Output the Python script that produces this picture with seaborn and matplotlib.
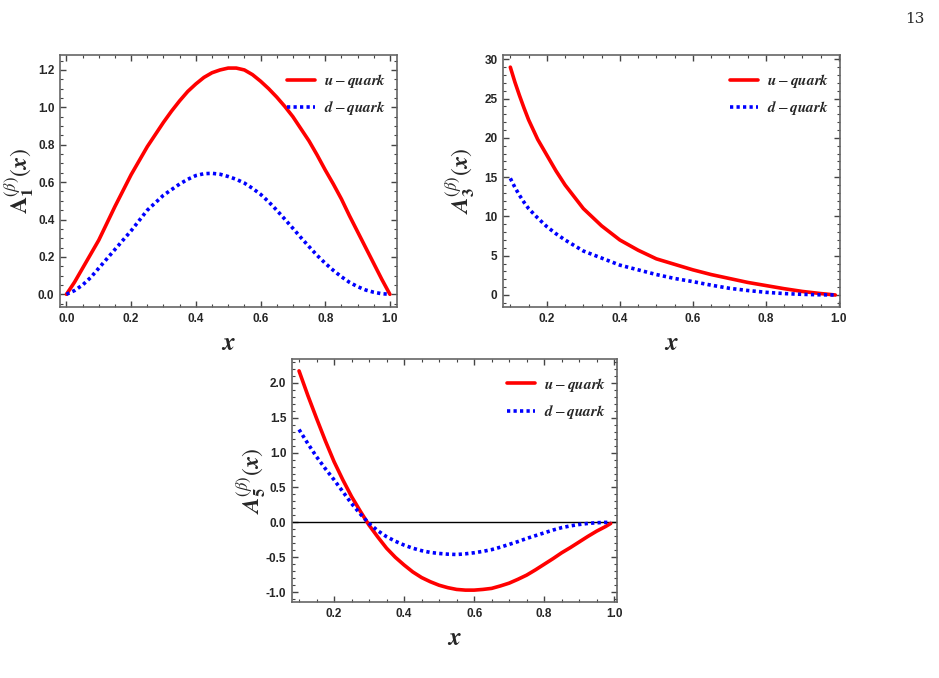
import matplotlib
matplotlib.use("Agg")
import matplotlib.pyplot as plt
import seaborn as sns
from matplotlib.ticker import MultipleLocator, FormatStrFormatter

# values
x1 = [0.0, 0.025, 0.05, 0.075, 0.1, 0.125, 0.15, 0.175, 0.2, 0.225, 0.25,
      0.275, 0.3, 0.325, 0.35, 0.375, 0.4, 0.425, 0.45, 0.475, 0.5,
      0.525, 0.55, 0.575, 0.6, 0.625, 0.65, 0.675, 0.7, 0.725, 0.75,
      0.775, 0.8, 0.825, 0.85, 0.875, 0.9, 0.925, 0.95, 0.975, 1.0]
u1 = [0.0, 0.065, 0.14, 0.215, 0.29, 0.38, 0.47, 0.555, 0.64, 0.715, 0.79,
      0.855, 0.92, 0.98, 1.035, 1.085, 1.125, 1.16, 1.185, 1.2, 1.21,
      1.21, 1.2, 1.175, 1.14, 1.10, 1.055, 1.005, 0.95, 0.885, 0.82,
      0.745, 0.665, 0.59, 0.51, 0.42, 0.335, 0.25, 0.165, 0.08, 0.0]
d1 = [0.0, 0.02, 0.05, 0.09, 0.14, 0.19, 0.24, 0.29, 0.34, 0.395, 0.45,
      0.49, 0.53, 0.56, 0.59, 0.615, 0.635, 0.645, 0.647, 0.642, 0.63,
      0.615, 0.595, 0.567, 0.535, 0.495, 0.45, 0.402, 0.353, 0.303, 0.255,
      0.208, 0.166, 0.128, 0.094, 0.064, 0.041, 0.023, 0.011, 0.003, 0.0]

x3 = [0.1, 0.1125, 0.125, 0.1375, 0.15, 0.175, 0.2, 0.225, 0.25, 0.3, 0.35,
      0.4, 0.45, 0.5, 0.55, 0.6, 0.65, 0.7, 0.75, 0.8, 0.85, 0.9, 0.95, 0.99]
u3 = [29.0, 27.1, 25.4, 23.8, 22.3, 19.8, 17.8, 15.8, 14.0, 11.0, 8.8,
      7.0, 5.7, 4.6, 3.9, 3.2, 2.6, 2.1, 1.6, 1.2, 0.8, 0.45, 0.18, 0.0]
d3 = [14.85, 13.7, 12.7, 11.8, 11.0, 9.8, 8.7, 7.8, 7.0, 5.6, 4.7,
      3.8, 3.2, 2.6, 2.1, 1.7, 1.25, 0.85, 0.57, 0.34, 0.18, 0.08, 0.02, 0.0]

x5 = [0.1, 0.125, 0.15, 0.175, 0.2, 0.225, 0.25, 0.275, 0.3, 0.325, 0.35,
      0.375, 0.4, 0.425, 0.45, 0.475, 0.5, 0.525, 0.55, 0.575, 0.6,
      0.625, 0.65, 0.675, 0.7, 0.725, 0.75, 0.775, 0.8, 0.825, 0.85,
      0.875, 0.9, 0.925, 0.95, 0.975, 0.99]
u5 = [2.17, 1.82, 1.49, 1.17, 0.87, 0.61, 0.37, 0.16, -0.04, -0.21, -0.37,
      -0.50, -0.61, -0.71, -0.79, -0.85, -0.90, -0.935, -0.96, -0.97, -0.97,
      -0.96, -0.945, -0.91, -0.87, -0.815, -0.755, -0.68, -0.60, -0.52, -0.435,
      -0.36, -0.28, -0.2, -0.125, -0.06, -0.015]
d5 = [1.33, 1.13, 0.94, 0.77, 0.61, 0.44, 0.27, 0.12, -0.015, -0.12, -0.205,
      -0.27, -0.325, -0.37, -0.405, -0.43, -0.445, -0.455, -0.46, -0.45, -0.435,
      -0.415, -0.39, -0.355, -0.315, -0.275, -0.23, -0.19, -0.15, -0.11, -0.075,
      -0.05, -0.03, -0.015, -0.005, 0.0, 0.0]

sns.set_style("ticks")
plt.rcParams['font.family'] = ['Liberation Sans', 'DejaVu Sans']
plt.rcParams['mathtext.fontset'] = 'stix'

fig = plt.figure(figsize=(9.39, 6.78), dpi=100)

panels = [
    ([0.0639, 0.5472, 0.3589, 0.3717], x1, u1, d1, r'$\mathbf{A}_{\mathbf{1}}^{(\beta)}(\boldsymbol{x})$',
     (-0.02, 1.022), (-0.068, 1.28), 0.2, 0.05, 0.2, 0.05, '%.1f', -0.072),
    ([0.5357, 0.5472, 0.3589, 0.3717], x3, u3, d3, r'$\boldsymbol{A}_{\mathbf{3}}^{(\beta)}(\boldsymbol{x})$',
     (0.08, 1.003), (-1.53, 30.55), 0.2, 0.05, 5, 1, '%d', -0.077),
    ([0.3110, 0.1121, 0.3461, 0.3584], x5, u5, d5, r'$\boldsymbol{A}_{\mathbf{5}}^{(\beta)}(\boldsymbol{x})$',
     (0.08, 1.008), (-1.14, 2.34), 0.2, 0.05, 0.5, 0.1, '%.1f', -0.074),
]

for i, (rect, xs, us, ds, ylab, xl, yl, xmaj, xmin, ymaj, ymin, yfmt, ylx) in enumerate(panels):
    ax = fig.add_axes(rect)
    if i == 2:
        ax.axhline(0, color='black', lw=1.0, zorder=1)
    sns.lineplot(x=xs, y=us, ax=ax, color='#ff0000', lw=2.6,
                 label=r'$\boldsymbol{u}-\boldsymbol{quark}$', sort=False, zorder=3)
    sns.lineplot(x=xs, y=ds, ax=ax, color='#0000ff', lw=2.6,
                 label=r'$\boldsymbol{d}-\boldsymbol{quark}$', sort=False, zorder=3)
    ax.lines[-1].set_linestyle((0, (0.9, 0.9)))
    ax.set_xlim(*xl)
    ax.set_ylim(*yl)
    ax.xaxis.set_major_locator(MultipleLocator(xmaj))
    ax.xaxis.set_minor_locator(MultipleLocator(xmin))
    ax.yaxis.set_major_locator(MultipleLocator(ymaj))
    ax.yaxis.set_minor_locator(MultipleLocator(ymin))
    ax.yaxis.set_major_formatter(FormatStrFormatter(yfmt))
    ax.xaxis.set_major_formatter(FormatStrFormatter('%.1f'))
    ax.tick_params(which='both', direction='in', top=True, right=True, color='#444444')
    ax.tick_params(which='major', length=4, width=1.0, labelsize=8.5, pad=4)
    ax.tick_params(which='minor', length=2, width=0.8)
    for lab in ax.get_xticklabels() + ax.get_yticklabels():
        lab.set_fontweight('bold')
    for s in ax.spines.values():
        s.set_color('#666666')
        s.set_linewidth(1.2)
    ax.set_xlabel(r'$\boldsymbol{x}$', fontsize=18, labelpad=5)
    ax.set_ylabel(ylab, fontsize=17)
    ax.yaxis.set_label_coords(ylx, 0.5)
    ax.legend(loc='upper right', bbox_to_anchor=(1.0, 0.975), frameon=False, fontsize=11,
              handlelength=1.8, handletextpad=0.6, labelspacing=0.6, borderaxespad=0.3)

fig.text(0.985, 0.972, '13', ha='right', va='center', fontsize=11, family='DejaVu Serif')

fig.savefig('out.png', dpi=100)
